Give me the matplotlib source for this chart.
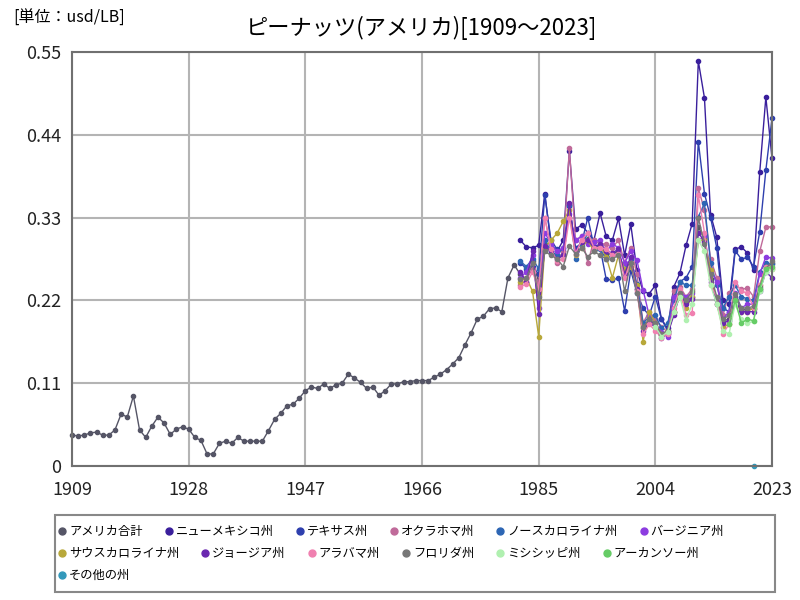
import numpy as np
import matplotlib
matplotlib.use("Agg")
import matplotlib.pyplot as plt
from matplotlib.lines import Line2D
from matplotlib.patches import Rectangle

plt.rcParams['font.family'] = ['Noto Sans CJK JP', 'DejaVu Sans']

# US total, 1909-2023
us_years = list(range(1909, 2024))
us_total = [
    0.041, 0.040, 0.041, 0.044, 0.045, 0.041, 0.041, 0.048, 0.069, 0.065,
    0.093, 0.048, 0.038, 0.053, 0.065, 0.057, 0.042, 0.049, 0.052, 0.049,
    0.038, 0.034, 0.016, 0.016, 0.030, 0.033, 0.030, 0.038, 0.033, 0.033,
    0.033, 0.033, 0.047, 0.062, 0.070, 0.080, 0.082, 0.090, 0.100, 0.105,
    0.103, 0.109, 0.103, 0.108, 0.110, 0.122, 0.117, 0.111, 0.103, 0.105,
    0.094, 0.100, 0.109, 0.109, 0.112, 0.112, 0.1135, 0.1135, 0.1135, 0.118,
    0.122, 0.128, 0.1355, 0.144, 0.161, 0.177, 0.195, 0.199, 0.209, 0.210,
    0.205, 0.250, 0.267,
    # 1982-
    0.255, 0.245, 0.272, 0.245, 0.295, 0.283, 0.278, 0.281, 0.347, 0.285,
    0.298, 0.302, 0.288, 0.293, 0.282, 0.282, 0.285, 0.255, 0.276, 0.235,
    0.183, 0.193, 0.188, 0.174, 0.177, 0.205, 0.230, 0.218, 0.225, 0.318,
    0.301, 0.249, 0.220, 0.193, 0.195, 0.225, 0.207, 0.208, 0.209, 0.235,
    0.263, 0.270,
]

# states, 1982-2023
st_years = list(range(1982, 2024))
new_mexico = [
    0.300, 0.291, 0.290, 0.293, 0.362, 0.295, 0.285, 0.300, 0.418, 0.315,
    0.320, 0.310, 0.300, 0.336, 0.305, 0.300, 0.329, 0.280, 0.321, 0.260,
    0.232, 0.229, 0.240, 0.195, 0.183, 0.238, 0.256, 0.293, 0.322, 0.538,
    0.489, 0.334, 0.304, 0.221, 0.215, 0.288, 0.291, 0.283, 0.260, 0.390,
    0.490, 0.409,
]
texas = [
    0.270, 0.262, 0.265, 0.255, 0.360, 0.300, 0.288, 0.285, 0.345, 0.290,
    0.296, 0.330, 0.292, 0.290, 0.248, 0.247, 0.250, 0.206, 0.260, 0.230,
    0.210, 0.200, 0.225, 0.195, 0.180, 0.225, 0.245, 0.250, 0.265, 0.431,
    0.362, 0.330, 0.290, 0.210, 0.205, 0.286, 0.275, 0.277, 0.265, 0.311,
    0.393, 0.462,
]
oklahoma = [
    0.240, 0.248, 0.262, 0.240, 0.330, 0.290, 0.270, 0.285, 0.422, 0.300,
    0.305, 0.270, 0.300, 0.295, 0.295, 0.290, 0.300, 0.270, 0.290, 0.255,
    0.190, 0.205, 0.195, 0.185, 0.178, 0.232, 0.238, 0.225, 0.235, 0.369,
    0.340, 0.275, 0.250, 0.200, 0.230, 0.240, 0.235, 0.236, 0.225, 0.285,
    0.317, 0.318,
]
north_carolina = [
    0.272, 0.265, 0.275, 0.262, 0.300, 0.285, 0.280, 0.290, 0.347, 0.275,
    0.292, 0.310, 0.285, 0.288, 0.275, 0.280, 0.282, 0.262, 0.275, 0.242,
    0.190, 0.198, 0.200, 0.183, 0.190, 0.220, 0.245, 0.240, 0.240, 0.331,
    0.349, 0.270, 0.240, 0.210, 0.225, 0.240, 0.225, 0.222, 0.220, 0.258,
    0.270, 0.268,
]
virginia = [
    0.250, 0.258, 0.280, 0.210, 0.310, 0.295, 0.285, 0.290, 0.335, 0.300,
    0.305, 0.295, 0.298, 0.300, 0.285, 0.295, 0.290, 0.270, 0.285, 0.274,
    0.234, 0.200, 0.190, 0.178, 0.172, 0.225, 0.230, 0.225, 0.230, 0.300,
    0.305, 0.260, 0.245, 0.195, 0.205, 0.230, 0.210, 0.215, 0.215, 0.255,
    0.278, 0.276,
]
south_carolina = [
    0.245, 0.250, 0.232, 0.172, 0.290, 0.300, 0.309, 0.325, 0.340, 0.280,
    0.290, 0.300, 0.285, 0.292, 0.278, 0.250, 0.280, 0.262, 0.265, 0.240,
    0.165, 0.205, 0.190, 0.175, 0.180, 0.205, 0.225, 0.210, 0.225, 0.300,
    0.300, 0.260, 0.215, 0.185, 0.188, 0.220, 0.205, 0.205, 0.210, 0.240,
    0.265, 0.262,
]
georgia = [
    0.258, 0.245, 0.285, 0.202, 0.292, 0.285, 0.275, 0.280, 0.350, 0.285,
    0.298, 0.300, 0.290, 0.295, 0.285, 0.283, 0.288, 0.255, 0.278, 0.235,
    0.180, 0.190, 0.185, 0.170, 0.175, 0.200, 0.228, 0.215, 0.222, 0.310,
    0.298, 0.245, 0.215, 0.190, 0.193, 0.222, 0.205, 0.205, 0.205, 0.232,
    0.258, 0.250,
]
alabama = [
    0.238, 0.242, 0.258, 0.235, 0.330, 0.288, 0.272, 0.275, 0.330, 0.282,
    0.300, 0.310, 0.290, 0.290, 0.288, 0.280, 0.282, 0.250, 0.270, 0.232,
    0.175, 0.188, 0.180, 0.170, 0.176, 0.210, 0.235, 0.200, 0.203, 0.360,
    0.310, 0.240, 0.225, 0.176, 0.188, 0.245, 0.232, 0.230, 0.210, 0.240,
    0.265, 0.265,
]
florida = [
    0.248, 0.250, 0.270, 0.225, 0.285, 0.280, 0.275, 0.265, 0.292, 0.282,
    0.290, 0.278, 0.285, 0.280, 0.275, 0.275, 0.280, 0.232, 0.270, 0.230,
    0.185, 0.195, 0.190, 0.175, 0.180, 0.205, 0.230, 0.220, 0.232, 0.330,
    0.295, 0.255, 0.225, 0.195, 0.200, 0.228, 0.210, 0.210, 0.212, 0.238,
    0.262, 0.272,
]
ms_years = list(range(2004, 2024))
mississippi = [
    0.185, 0.172, 0.178, 0.205, 0.225, 0.194, 0.215, 0.300, 0.285, 0.240,
    0.215, 0.180, 0.175, 0.215, 0.195, 0.190, 0.192, 0.232, 0.258, 0.262,
]
ar_years = list(range(2016, 2024))
arkansas = [0.188, 0.220, 0.190, 0.195, 0.193, 0.235, 0.262, 0.265]
other_years = [2020]
others = [0.0]

names = ['アメリカ合計', 'ニューメキシコ州', 'テキサス州', 'オクラホマ州', 'ノースカロライナ州',
         'バージニア州', 'サウスカロライナ州', 'ジョージア州', 'アラバマ州', 'フロリダ州',
         'ミシシッピ州', 'アーカンソー州', 'その他の州']
colors = ['#555566', '#3a1f9c', '#2e3fae', '#c06a9a', '#2d66b4', '#8c3ce0', '#b8a83a',
          '#6a28b0', '#f080b0', '#777777', '#b0f0b0', '#66cc66', '#3399bb']
series = [
    (us_years, us_total), (st_years, new_mexico), (st_years, texas), (st_years, oklahoma),
    (st_years, north_carolina), (st_years, virginia), (st_years, south_carolina),
    (st_years, georgia), (st_years, alabama), (st_years, florida),
    (ms_years, mississippi), (ar_years, arkansas), (other_years, others),
]

fig = plt.figure(figsize=(8, 6), dpi=100)
ax = fig.add_axes([72 / 800, 1 - 466 / 600, 700 / 800, 414 / 600])

for (xs, ys), c in zip(series, colors):
    ax.plot(xs, ys, color=c, lw=1.0, marker='o', ms=3.0, clip_on=False)

ax.set_xlim(1909, 2023)
ax.set_ylim(0, 0.55)
ax.set_xticks([1909, 1928, 1947, 1966, 1985, 2004, 2023])
ax.set_yticks([0, 0.11, 0.22, 0.33, 0.44, 0.55])
ax.set_yticklabels(['0', '0.11', '0.22', '0.33', '0.44', '0.55'])
ax.tick_params(length=0, labelsize=13, colors='#222222')
ax.tick_params(axis='x', pad=11)
ax.tick_params(axis='y', pad=8)
ax.grid(True, color='#b4b4b4', lw=1.5)
ax.set_axisbelow(True)
for s in ax.spines.values():
    s.set_color('#707070')
    s.set_linewidth(1.5)

fig.text(422 / 800, 1 - 28 / 600, 'ピーナッツ(アメリカ)[1909～2023]', ha='center', va='center', fontsize=16)
fig.text(13 / 800, 1 - 18 / 600, '[単位：usd/LB]', ha='left', va='center', fontsize=11.5)

# flow-style legend box
fig.add_artist(Rectangle((55 / 800, 1 - 592 / 600), 720 / 800, 77 / 600, transform=fig.transFigure,
                         fill=False, edgecolor='#888888', lw=1.5))
fig.canvas.draw()
r = fig.canvas.get_renderer()
x, row = 62, 0
rows_y = [531, 553, 575]
for name, c in zip(names, colors):
    t = fig.text(0, 0, name, fontsize=8.8, ha='left', va='center')
    w = t.get_window_extent(r).width
    if x + 8 + w > 770:
        row += 1
        x = 62
    y = 1 - rows_y[row] / 600
    t.set_position(((x + 7) / 800, y))
    fig.add_artist(Line2D([x / 800], [y], marker='o', ms=5, color=c, lw=0, transform=fig.transFigure))
    x += 7 + w + 26

fig.savefig('out.png', dpi=100)
